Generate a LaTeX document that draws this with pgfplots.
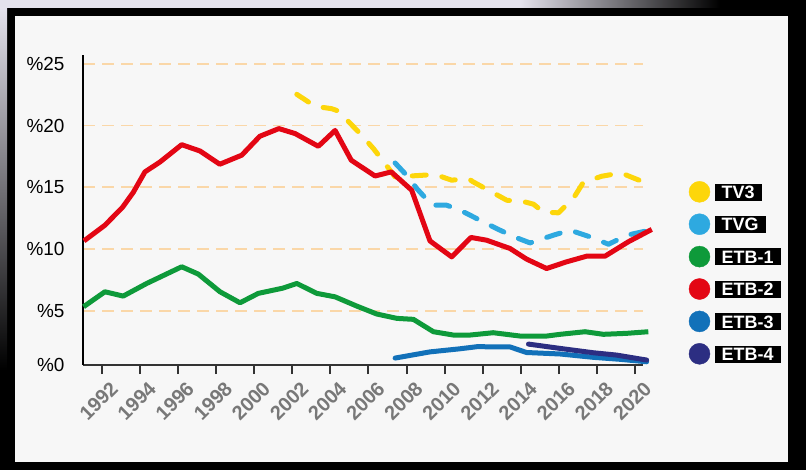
\documentclass[border=0pt]{standalone}
\usepackage{pgfplots}
\pgfplotsset{compat=1.18}
\usepackage{fontspec}
\setmainfont{Liberation Sans}
\definecolor{tvthree}{HTML}{FDD60A}
\definecolor{tvg}{HTML}{2EA9E0}
\definecolor{etbone}{HTML}{0E9A3A}
\definecolor{etbtwo}{HTML}{E30614}
\definecolor{etbthree}{HTML}{1271B9}
\definecolor{etbfour}{HTML}{2C2E82}
\definecolor{gridc}{HTML}{FAD7A8}
\definecolor{panel}{HTML}{F7F7F7}
\definecolor{lav}{HTML}{E4E2EC}
\definecolor{tickc}{HTML}{787878}
\newcommand\lbox[1]{{\setlength\fboxsep{0pt}\colorbox{black}{\rule[-2bp]{0pt}{17bp}\hspace{7bp}\textcolor{white}{\fontsize{18}{18}\selectfont\bfseries #1}\hspace{7bp}}}}
\newcommand\xl[1]{\textcolor{tickc}{\fontsize{20}{20}\selectfont\bfseries #1}}
\begin{document}
\begin{tikzpicture}
\useasboundingbox (0,0) rectangle (806bp,470bp);
\fill[black] (0,0) rectangle (806bp,470bp);
\fill[lav] (0,462bp) rectangle (520bp,470bp);
\shade[left color=lav, right color=black] (520bp,462bp) rectangle (720bp,470bp);
\shade[top color=lav, bottom color=black] (0,100bp) rectangle (7bp,462bp);
\fill[panel] (15bp,8bp) rectangle (788bp,454bp);
\begin{axis}[
  at={(83bp,105bp)}, anchor=south west,
  scale only axis, width=560bp, height=310bp,
  xmin=1991.02, xmax=2020.41, ymin=0.64, ymax=25.7,
  clip=false,
  axis x line=bottom, axis y line=left,
  axis line style={-, line width=2bp},
  x axis line style={draw=black!80},
  xtick={1992,1994,1996,1998,2000,2002,2004,2006,2008,2010,2012,2014,2016,2018,2020},
  xticklabels={\xl{1992},\xl{1994},\xl{1996},\xl{1998},\xl{2000},\xl{2002},\xl{2004},\xl{2006},\xl{2008},\xl{2010},\xl{2012},\xl{2014},\xl{2016},\xl{2018},\xl{2020}},
  ytick={0.64,5,10,15,20,25},
  yticklabels={\%0,\%5,\%10,\%15,\%20,\%25},
  ymajorgrids,
  grid style={gridc, line width=1.8bp, dash pattern=on 12bp off 7bp},
  tick align=outside, major tick length=9bp,
  xtick style={line width=2bp, black!80},
  ytick style={draw=none},
  xticklabel style={rotate=45, anchor=east, inner sep=0pt, xshift=1bp, yshift=-17bp},
  yticklabel style={font=\fontsize{19}{19}\selectfont, anchor=east, xshift=-6bp},
  legend style={at={(1,0)}, anchor=south west, xshift=45.8bp, yshift=0.5bp, draw=none, fill=none,
    inner sep=0pt, outer sep=0pt, row sep=11bp, column sep=4.5bp, nodes={inner sep=0pt}},
  legend cell align=left,
]
\addplot[forget plot, tvthree, line width=5bp, line cap=round, line join=round, dash pattern=on 14bp off 16bp] coordinates {
(2002.24,22.52) (2003.2,21.55) (2004.07,21.36) (2004.42,21.17) (2005.56,19.35) (2006.26,18.14)
(2006.87,16.92) (2007.4,15.84) (2008.54,15.95) (2009.5,16.04) (2010.37,15.58) (2011.24,15.71)
(2011.5,15.44) (2012.3,14.77) (2013.26,13.96) (2014.22,13.82) (2014.66,13.64) (2015.18,13.0)
(2015.97,12.94) (2016.75,14.1) (2017.28,15.4) (2018.25,15.9) (2019.25,16.17) (2020.2,15.58)};
\addplot[forget plot, tvg, line width=5bp, line cap=round, line join=round, dash pattern=on 14bp off 16bp] coordinates {
(2007.4,16.97) (2008.0,15.98) (2008.54,14.9) (2009.33,13.56) (2010.1,13.56) (2010.8,13.15)
(2011.16,12.89) (2012.03,12.2) (2012.9,11.54) (2013.87,10.87) (2014.48,10.51) (2015.7,11.13)
(2016.58,11.54) (2017.63,11.0) (2018.6,10.4) (2019.56,11.13) (2020.6,11.48)};
\addplot[forget plot, etbone, line width=5bp, line join=round] coordinates {
(1991.05,5.35) (1992.17,6.56) (1993.13,6.21) (1994.36,7.23) (1996.2,8.58) (1997.07,7.99)
(1998.21,6.56) (1999.26,5.67) (2000.22,6.43) (2001.5,6.85) (2002.24,7.23) (2003.29,6.43)
(2004.25,6.15) (2005.39,5.4) (2006.44,4.76) (2007.49,4.41) (2008.36,4.33) (2009.41,3.33)
(2010.46,3.06) (2011.33,3.06) (2012.55,3.25) (2013.96,2.98) (2015.35,2.98) (2016.06,3.12)
(2017.37,3.33) (2018.33,3.12) (2019.56,3.2) (2020.69,3.33)};
\addplot[forget plot, etbtwo, line width=5bp, line join=round] coordinates {
(1991.07,10.67) (1992.17,11.94) (1993.1,13.4) (1993.66,14.6) (1994.27,16.25) (1995.06,17.05)
(1996.2,18.45) (1997.16,17.94) (1998.2,16.87) (1999.35,17.6) (2000.3,19.13) (2001.3,19.75)
(2002.15,19.35) (2003.37,18.32) (2004.25,19.6) (2005.1,17.19) (2006.35,15.92) (2007.2,16.25)
(2008.27,14.77) (2009.23,10.67) (2010.37,9.38) (2011.38,10.95) (2012.2,10.73) (2013.43,10.06)
(2014.3,9.2) (2015.35,8.44) (2016.4,8.98) (2017.46,9.44) (2018.42,9.44) (2019.64,10.6)
(2020.87,11.6)};
\addplot[forget plot, etbthree, line width=5bp, line join=round, line cap=round] coordinates {
(2007.4,1.2) (2009.23,1.7) (2010.8,1.95) (2011.7,2.12) (2013.43,2.1) (2014.3,1.65)
(2016.06,1.53) (2017.8,1.26) (2019.2,1.1) (2020.6,0.9)};
\addplot[forget plot, etbfour, line width=5bp, line join=round, line cap=round] coordinates {
(2014.4,2.33) (2016.06,1.98) (2017.8,1.63) (2019.03,1.44) (2020.6,1.04)};
\addlegendimage{legend image code/.code={\fill[tvthree] (10.5bp,0) circle (10.5bp);}}
\addlegendentry{\lbox{TV3}}
\addlegendimage{legend image code/.code={\fill[tvg] (10.5bp,0) circle (10.5bp);}}
\addlegendentry{\lbox{TVG}}
\addlegendimage{legend image code/.code={\fill[etbone] (10.5bp,0) circle (10.5bp);}}
\addlegendentry{\lbox{ETB-1}}
\addlegendimage{legend image code/.code={\fill[etbtwo] (10.5bp,0) circle (10.5bp);}}
\addlegendentry{\lbox{ETB-2}}
\addlegendimage{legend image code/.code={\fill[etbthree] (10.5bp,0) circle (10.5bp);}}
\addlegendentry{\lbox{ETB-3}}
\addlegendimage{legend image code/.code={\fill[etbfour] (10.5bp,0) circle (10.5bp);}}
\addlegendentry{\lbox{ETB-4}}
\end{axis}
\end{tikzpicture}
\end{document}
